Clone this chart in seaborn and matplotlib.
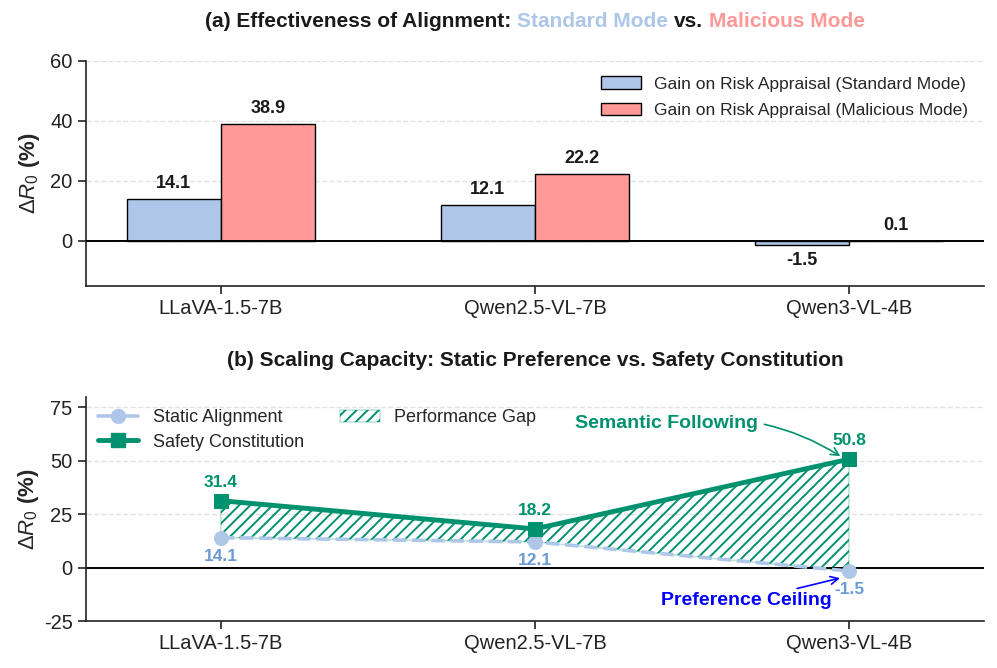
import matplotlib
matplotlib.use("Agg")
import matplotlib.pyplot as plt
from matplotlib.patches import Patch
from matplotlib.lines import Line2D
import seaborn as sns
import pandas as pd

# ---- data ----
models = ["LLaVA-1.5-7B", "Qwen2.5-VL-7B", "Qwen3-VL-4B"]
standard_gain = [14.1, 12.1, -1.5]
malicious_gain = [38.9, 22.2, 0.1]
static_align = [14.1, 12.1, -1.5]
safety_const = [31.4, 18.2, 50.8]
mode_labels = ["Gain on Risk Appraisal (Standard Mode)",
               "Gain on Risk Appraisal (Malicious Mode)"]

# ---- style ----
sns.set_theme(style="ticks")
plt.rcParams["font.family"] = ["Liberation Sans", "DejaVu Sans"]
plt.rcParams["mathtext.fontset"] = "custom"
plt.rcParams["mathtext.rm"] = "Liberation Sans"
plt.rcParams["mathtext.it"] = "Liberation Sans:italic"
plt.rcParams["mathtext.bf"] = "Liberation Sans:bold"
plt.rcParams["hatch.linewidth"] = 1.4
plt.rcParams["axes.unicode_minus"] = False

C_STD = "#aec7e8"
C_MAL = "#ff9896"
C_GREEN = "#00916e"
C_STATIC_TXT = "#6b9bd2"
C_DARK = "#1a1a1a"

fig = plt.figure(figsize=(9.97, 6.68), dpi=100)
ax1 = fig.add_axes([0.086, 0.572, 0.901, 0.337])
ax2 = fig.add_axes([0.086, 0.070, 0.901, 0.336])

# ============================================================================
# (a) bars
# ============================================================================
df = pd.DataFrame({
    "model": models * 2,
    "gain": standard_gain + malicious_gain,
    "mode": [mode_labels[0]] * 3 + [mode_labels[1]] * 3,
})
sns.barplot(data=df, x="model", y="gain", hue="mode", hue_order=mode_labels,
            palette=[C_STD, C_MAL], width=0.6, saturation=1,
            edgecolor="black", linewidth=1.0, ax=ax1, legend=False)

for cont in ax1.containers:
    ax1.bar_label(cont, fmt="%.1f", padding=5, fontsize=13,
                  fontweight="bold", color=C_DARK)

ax1.axhline(0, color="black", lw=1.4, zorder=3)
ax1.set_ylim(-15, 60)
ax1.set_yticks([0, 20, 40, 60])
ax1.set_xlim(-0.43, 2.43)
ax1.set_xlabel("")
ax1.set_ylabel(r"$\Delta R_0$ (%)", fontsize=16, fontweight="bold", labelpad=6)
ax1.yaxis.grid(True, linestyle="--", color="#e3e3e3", lw=1.0)
ax1.set_axisbelow(True)
ax1.legend(handles=[Patch(facecolor=C_STD, edgecolor="black", lw=1.0),
                    Patch(facecolor=C_MAL, edgecolor="black", lw=1.0)],
           labels=mode_labels, loc="upper right", frameon=False,
           fontsize=12.5, handlelength=2.3, labelspacing=0.65)

# multi-colour title
title_y = 0.968
pieces = [("(a) Effectiveness of Alignment:", C_DARK), ("Standard Mode", C_STD),
          ("vs.", C_DARK), ("Malicious Mode", C_MAL)]
fig.canvas.draw()
renderer = fig.canvas.get_renderer()
tk = dict(fontsize=15, fontweight="bold", va="center")
t_a = fig.text(0, 0, "x x", **tk)
t_b = fig.text(0, 0, "xx", **tk)
space_w = (t_a.get_window_extent(renderer).width
           - t_b.get_window_extent(renderer).width)
t_a.remove()
t_b.remove()
texts = []
widths = []
for s, c in pieces:
    t = fig.text(0, title_y, s, color=c, ha="left", **tk)
    texts.append(t)
    widths.append(t.get_window_extent(renderer).width)
total = sum(widths) + space_w * (len(pieces) - 1)
ax_box = ax1.get_window_extent(renderer)
x0 = (ax_box.x0 + ax_box.x1) / 2 - total / 2
fig_w = fig.bbox.width
for t, w in zip(texts, widths):
    t.set_x(x0 / fig_w)
    x0 += w + space_w

# ============================================================================
# (b) lines
# ============================================================================
xpos = [0, 1, 2]
ax2.fill_between(xpos, static_align, safety_const, facecolor="none",
                 edgecolor="#bfe3d6", lw=1.2, zorder=1)
ax2.fill_between(xpos, static_align, safety_const, facecolor="none",
                 edgecolor=C_GREEN, hatch="///", lw=0, zorder=1)

sns.lineplot(x=xpos, y=static_align, ax=ax2, color=C_STD, lw=2.6,
             linestyle="--", marker="o", markersize=10,
             markeredgecolor=C_STD, zorder=3)
sns.lineplot(x=xpos, y=safety_const, ax=ax2, color=C_GREEN, lw=3.5,
             marker="s", markersize=10, markeredgecolor=C_GREEN, zorder=4)

for x, v in zip(xpos, safety_const):
    ax2.annotate(f"{v:.1f}", (x, v), xytext=(0, 8), textcoords="offset points",
                 ha="center", va="bottom", fontsize=12.5, fontweight="bold",
                 color=C_GREEN)
for x, v in zip(xpos, static_align):
    ax2.annotate(f"{v:.1f}", (x, v), xytext=(0, -8), textcoords="offset points",
                 ha="center", va="top", fontsize=12.5, fontweight="bold",
                 color=C_STATIC_TXT)

ax2.annotate("Semantic Following", xy=(1.98, 51.5), xytext=(1.42, 67.5),
             ha="center", va="center", fontsize=14, fontweight="bold",
             color=C_GREEN,
             arrowprops=dict(arrowstyle="->", color=C_GREEN, lw=1.2,
                             connectionstyle="arc3,rad=-0.2", shrinkB=2))
ax2.annotate("Preference Ceiling", xy=(1.98, -4.5), xytext=(1.672, -15.5),
             ha="center", va="center", fontsize=14, fontweight="bold",
             color="blue",
             arrowprops=dict(arrowstyle="->", color="blue", lw=1.2, shrinkB=2))

ax2.axhline(0, color="black", lw=1.4, zorder=2)
ax2.set_ylim(-25, 80)
ax2.set_yticks([-25, 0, 25, 50, 75])
ax2.set_xticks(xpos)
ax2.set_xticklabels(models)
ax2.set_xlim(-0.43, 2.43)
ax2.set_ylabel(r"$\Delta R_0$ (%)", fontsize=16, fontweight="bold", labelpad=2)
ax2.yaxis.grid(True, linestyle="--", color="#e3e3e3", lw=1.0)
ax2.set_axisbelow(True)
ax2.set_title("(b) Scaling Capacity: Static Preference vs. Safety Constitution",
              fontsize=15, fontweight="bold", color=C_DARK, pad=22)

gap_handle = (Patch(facecolor="white", edgecolor="#bfe3d6", lw=1.2),
              Patch(facecolor="none", edgecolor=C_GREEN, hatch="///", lw=0))
ax2.legend(handles=[Line2D([], [], color=C_STD, lw=2.6, marker="o", markersize=10),
                    Line2D([], [], color=C_GREEN, lw=3.5, marker="s", markersize=10),
                    gap_handle],
           labels=["Static Alignment", "Safety Constitution", "Performance Gap"],
           loc="upper left", ncol=2, frameon=False, fontsize=13,
           handlelength=2.2, borderaxespad=0.3, labelspacing=0.4)

for ax in (ax1, ax2):
    sns.despine(ax=ax)
    ax.tick_params(axis="both", labelsize=14.5, length=6, width=1.2,
                   colors="#222222")
    for sp in ("left", "bottom"):
        ax.spines[sp].set_linewidth(1.2)
        ax.spines[sp].set_color("#222222")

fig.savefig("out.png", dpi=100)
